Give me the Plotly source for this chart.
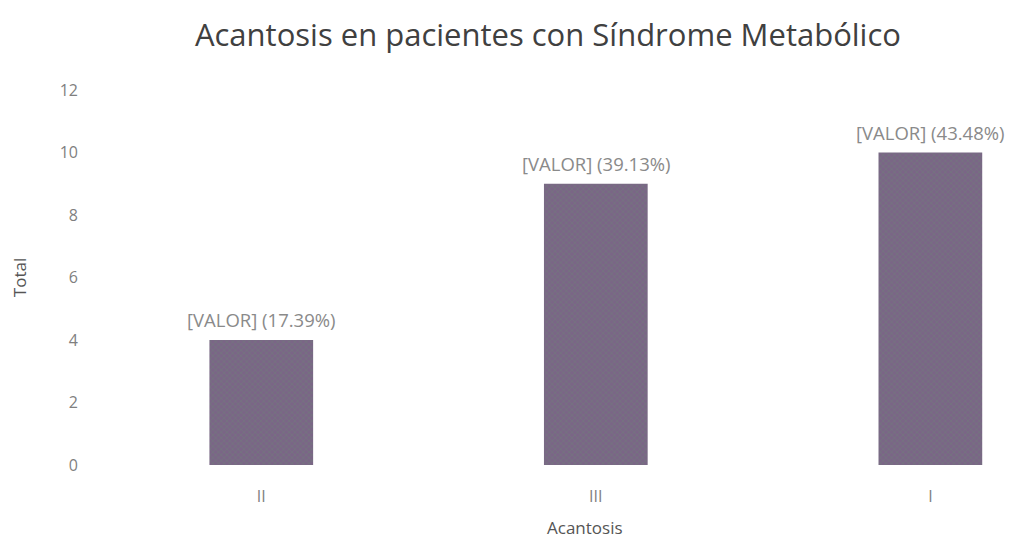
import plotly.graph_objects as go

categorias = ["II", "III", "I"]
totales = [4, 9, 10]
ticks_y = [0, 2, 4, 6, 8, 10, 12]

suma = sum(totales)
etiquetas = [f"[VALOR] ({v / suma * 100:.2f}%)" for v in totales]

fig = go.Figure(go.Bar(
    x=categorias,
    y=totales,
    width=0.31,
    marker={
        "color": "#7a6686",
        "line": {"width": 0},
        # trama fina que imita el moiré del escaneo
        "pattern": {"shape": "x", "size": 4, "solidity": 0.35,
                    "fgcolor": "#6c8478", "fillmode": "overlay"},
    },
    hoverinfo="x+y",
))

# etiquetas de datos encima de cada barra
for cat, val, txt in zip(categorias, totales, etiquetas):
    fig.add_annotation(
        x=cat, y=val, text=txt,
        showarrow=False, yanchor="bottom", yshift=6,
        font={"size": 18.5, "color": "#8a8a8a"},
    )

# título del eje X (el gráfico original está recortado por la derecha)
fig.add_annotation(
    x=0.534, y=0, xref="paper", yref="paper",
    text="Acantosis", showarrow=False,
    xanchor="center", yanchor="middle", yshift=-62,
    font={"size": 17, "color": "#555555"},
)

fig.update_layout(
    width=1013,
    height=541,
    title={
        "text": "Acantosis en pacientes con Síndrome Metabólico",
        "x": 0.533, "xanchor": "center",
        "y": 0.95, "yanchor": "middle",
        "font": {"size": 31, "color": "#404040"},
    },
    margin={"l": 86, "r": 7, "t": 82, "b": 84},
    plot_bgcolor="white",
    paper_bgcolor="white",
    font={"family": "Open Sans, Noto Sans, sans-serif", "color": "#7f7f7f"},
    showlegend=False,
)

fig.update_xaxes(
    range=[-0.5, 2.25],
    tickfont={"size": 16, "color": "#7f7f7f"},
    ticks="",
    ticklabelstandoff=20,
    showline=False,
    showgrid=False,
)

fig.update_yaxes(
    range=[0, 12],
    tickvals=ticks_y,
    title={"text": "Total", "font": {"size": 17, "color": "#555555"}, "standoff": 28},
    tickfont={"size": 16, "color": "#7f7f7f"},
    ticklabelstandoff=15,
    showgrid=False,
    zeroline=False,
    showline=False,
)

fig.write_html("out.html")
